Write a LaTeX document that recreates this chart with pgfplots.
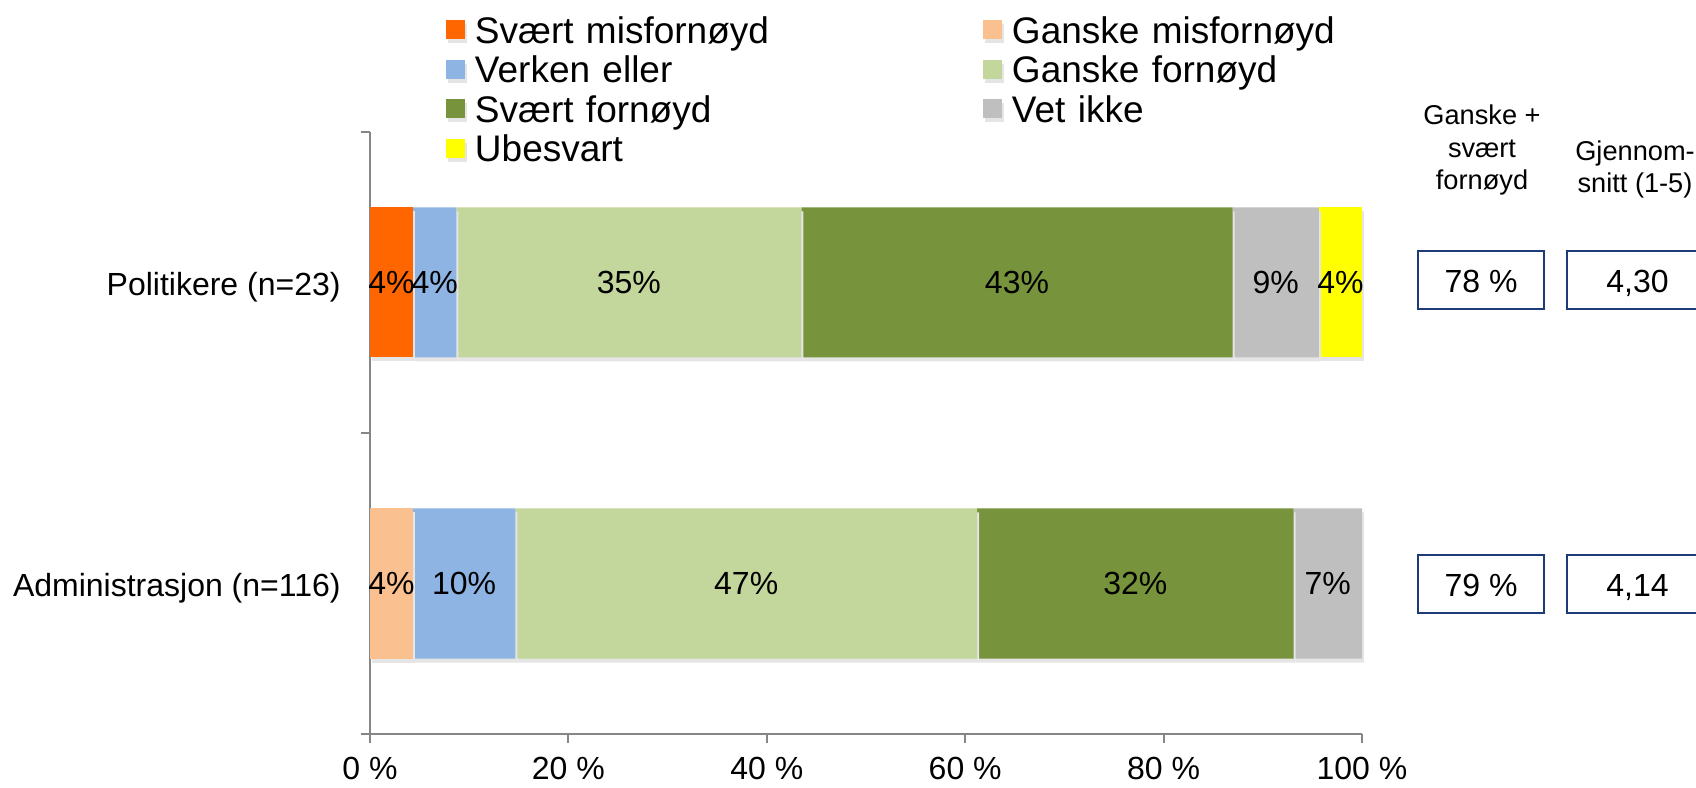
\documentclass[border=0pt]{standalone}
\usepackage{pgfplots}
\pgfplotsset{compat=1.18}
\usepackage{fontspec}
\setmainfont{Liberation Sans}
\definecolor{c1}{HTML}{FF6600}
\definecolor{c2}{HTML}{FAC090}
\definecolor{c3}{HTML}{8EB4E3}
\definecolor{c4}{HTML}{C3D69B}
\definecolor{c5}{HTML}{77933C}
\definecolor{c6}{HTML}{BFBFBF}
\definecolor{c7}{HTML}{FFFF00}
\definecolor{axgray}{HTML}{868686}
\definecolor{boxblue}{HTML}{1F3A78}
\def\myempty{}
\pgfplotsset{sq/.style={fill=#1, draw=none,
  preaction={fill=black!10, transform canvas={xshift=1pt, yshift=-2pt}},
  legend image code/.code={\fill[#1] (0pt,1.85pt) rectangle (9.5pt,11.35pt);}}}
\begin{document}
\begin{tikzpicture}
\path[use as bounding box] (0,0) rectangle (848pt,393.5pt);
\begin{axis}[
  at={(185pt,26.5pt)}, anchor=south west,
  scale only axis, width=496pt, height=301pt,
  xbar stacked, bar width=75pt,
  xmin=0, xmax=100, ymin=-0.5, ymax=1.5,
  axis x line*=bottom, axis y line*=left,
  axis line style={axgray, line width=1pt},
  tick align=outside, major tick length=4.5pt,
  tick style={axgray, line width=1pt},
  xtick={0,20,40,60,80,100},
  xticklabels={0 \%,20 \%,40 \%,60 \%,80 \%,100 \%},
  xticklabel style={font=\fontsize{16}{19}\selectfont, anchor=center, inner sep=0pt, yshift=-12.8pt},
  ytick={-0.5,0.5,1.5}, yticklabels={},
  extra y ticks={0,1},
  extra y tick labels={Administrasjon (n=116),Politikere (n=23)},
  extra y tick style={major tick length=0pt, tick label style={font=\fontsize{16}{19}\selectfont, anchor=east, inner sep=0pt, xshift=-14.5pt, yshift=-2.5pt}},
  point meta=explicit symbolic,
  nodes near coords={\ifx\pgfplotspointmeta\myempty\else\pgfplotspointmeta\%\fi},
  every node near coord/.append style={anchor=center, font=\fontsize{16}{19}\selectfont},
  clip=false,
  legend columns=2,
  legend cell align=left,
  legend style={at={(0.0766,1.191)}, anchor=north west, draw=none, fill=none, inner sep=0pt, outer sep=0pt, row sep=2.75pt, column sep=0pt,
    nodes={inner xsep=5pt, inner ysep=0pt, text width=249pt, text height=13pt, text depth=4pt, font=\fontsize{18.5}{22}\selectfont, anchor=base west}},
]
\addplot[sq=c1] coordinates {(0,0) (4.35,1) [4]};
\addlegendentry{Svært misfornøyd}
\addplot[sq=c2] coordinates {(4.31,0) [4] (0,1)};
\addlegendentry{Ganske misfornøyd}
\addplot[sq=c3] coordinates {(10.34,0) [10] (4.35,1) [4]};
\addlegendentry{Verken eller}
\addplot[sq=c4] coordinates {(46.55,0) [47] (34.78,1) [35]};
\addlegendentry{Ganske fornøyd}
\addplot[sq=c5] coordinates {(31.90,0) [32] (43.48,1) [43]};
\addlegendentry{Svært fornøyd}
\addplot[sq=c6] coordinates {(6.90,0) [7] (8.70,1) [9]};
\addlegendentry{Vet ikke}
\addplot[sq=c7] coordinates {(0,0) (4.35,1) [4]};
\addlegendentry{Ubesvart}
\end{axis}
\node[font=\fontsize{13.6}{16.25}\selectfont, align=center] at (741pt,318.5pt) {Ganske +\\svært\\fornøyd};
\node[font=\fontsize{13.6}{16}\selectfont, align=center] at (817.5pt,309pt) {Gjennom-\\snitt (1-5)};
\draw[boxblue, line width=1pt] (709pt,239pt) rectangle (772pt,268pt);
\draw[boxblue, line width=1pt] (783.5pt,239pt) rectangle (850pt,268pt);
\draw[boxblue, line width=1pt] (709pt,87pt) rectangle (772pt,116pt);
\draw[boxblue, line width=1pt] (783.5pt,87pt) rectangle (850pt,116pt);
\node[font=\fontsize{16}{19}\selectfont, anchor=base] at (740.5pt,247pt) {78 \%};
\node[font=\fontsize{16}{19}\selectfont, anchor=base] at (818.75pt,247pt) {4,30};
\node[font=\fontsize{16}{19}\selectfont, anchor=base] at (740.5pt,95pt) {79 \%};
\node[font=\fontsize{16}{19}\selectfont, anchor=base] at (818.75pt,95pt) {4,14};
\end{tikzpicture}
\end{document}
